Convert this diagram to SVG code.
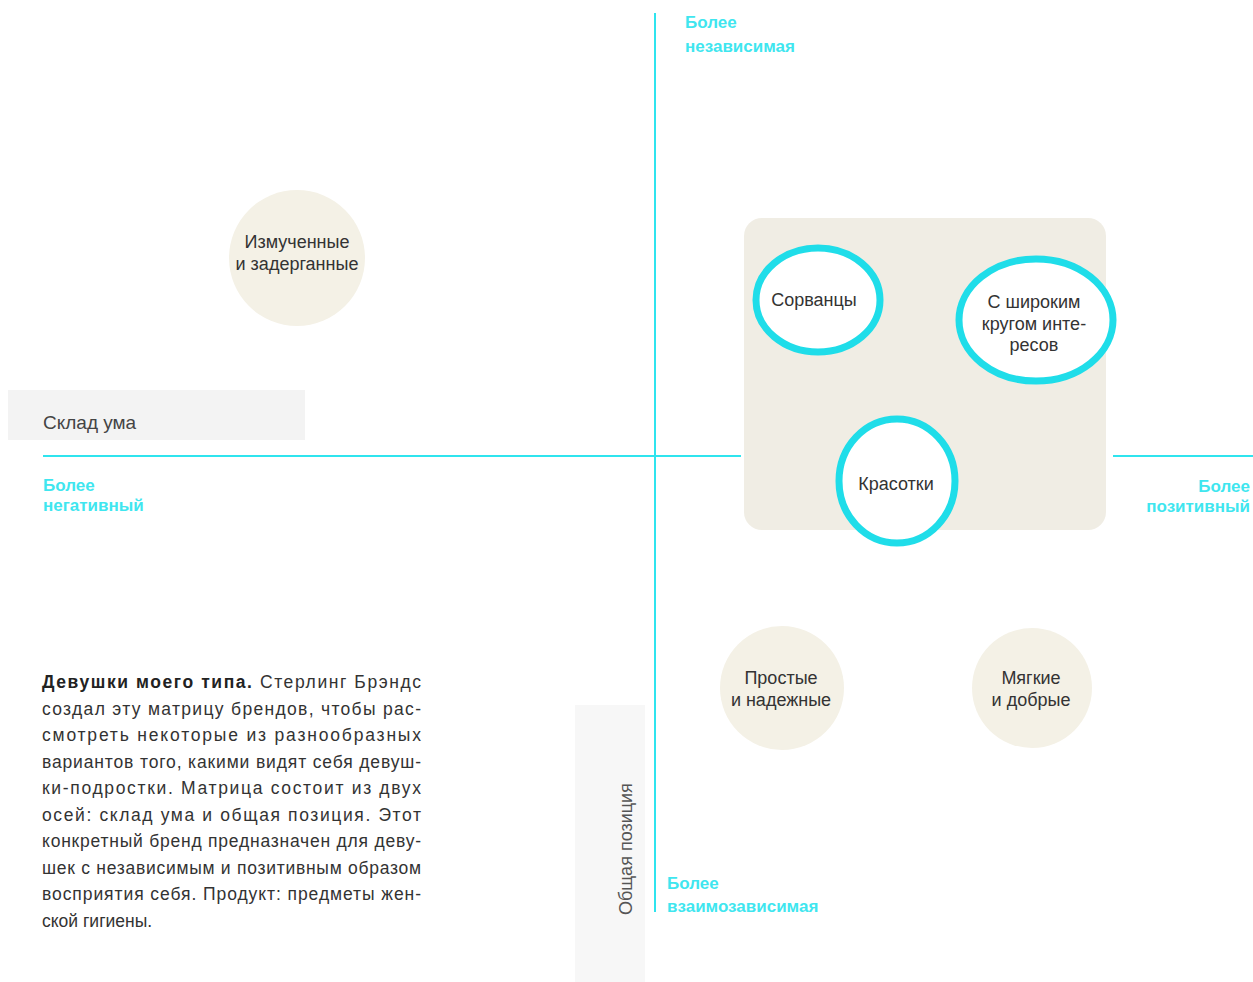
<svg xmlns="http://www.w3.org/2000/svg" width="1253" height="982" viewBox="0 0 1253 982">
<style>
.axis{stroke:#2fe4ee;stroke-width:2;fill:none}
.pole{font-family:"Liberation Sans",Arial,sans-serif;font-size:17px;fill:#3fe6ef;font-weight:bold}
.lbl{font-family:"Liberation Sans",Arial,sans-serif;font-size:18px;fill:#333;text-anchor:middle}
.soft{fill:#f4f1e6}
.ring{fill:#ffffff;stroke:#1fdde9;stroke-width:7}
.body{font-family:"Liberation Sans",Arial,sans-serif;font-size:17.5px;fill:#333}
</style>
<rect width="1253" height="982" fill="#ffffff"/>
<rect x="8" y="390" width="297" height="50" fill="#f3f3f3"/>
<rect x="575" y="705" width="70" height="277" fill="#f7f7f7"/>
<rect x="744" y="218" width="362" height="312" rx="18" fill="#f0ede4"/>
<g id="connectors">
<line class="axis" x1="655" y1="13" x2="655" y2="912"/>
<line class="axis" x1="43" y1="456" x2="741" y2="456"/>
<line class="axis" x1="1113" y1="456" x2="1253" y2="456"/>
</g>
<text x="43" y="429" font-family="'Liberation Sans',Arial,sans-serif" font-size="19" fill="#444">Склад ума</text>
<text transform="translate(632,915) rotate(-90)" font-family="'Liberation Sans',Arial,sans-serif" font-size="18" fill="#555">Общая позиция</text>
<text class="pole" x="685" y="28">Более</text>
<text class="pole" x="685" y="52">независимая</text>
<text class="pole" x="43" y="491">Более</text>
<text class="pole" x="43" y="511">негативный</text>
<text class="pole" x="1250" y="492" text-anchor="end">Более</text>
<text class="pole" x="1250" y="512" text-anchor="end">позитивный</text>
<text class="pole" x="667" y="889">Более</text>
<text class="pole" x="667" y="912">взаимозависимая</text>
<g id="node-izmuchennye">
<circle class="soft" cx="297" cy="258" r="68"/>
<text class="lbl" x="297" y="248">Измученные</text>
<text class="lbl" x="297" y="270">и задерганные</text>
</g>
<g id="node-sorvantsy">
<ellipse class="ring" cx="818" cy="300" rx="62" ry="52"/>
<text class="lbl" x="814" y="306">Сорванцы</text>
</g>
<g id="node-shirokim">
<ellipse class="ring" cx="1036" cy="320" rx="77" ry="61"/>
<text class="lbl" x="1034" y="308">С широким</text>
<text class="lbl" x="1034" y="330">кругом инте-</text>
<text class="lbl" x="1034" y="351">ресов</text>
</g>
<g id="node-krasotki">
<ellipse class="ring" cx="897" cy="481" rx="58" ry="62"/>
<text class="lbl" x="896" y="490">Красотки</text>
</g>
<g id="node-prostye">
<circle class="soft" cx="782" cy="688" r="62"/>
<text class="lbl" x="781" y="684">Простые</text>
<text class="lbl" x="781" y="706">и надежные</text>
</g>
<g id="node-myagkie">
<circle class="soft" cx="1032" cy="688" r="60"/>
<text class="lbl" x="1031" y="684">Мягкие</text>
<text class="lbl" x="1031" y="706">и добрые</text>
</g>
<g id="caption" class="body">
<text x="42" y="688" textLength="379" lengthAdjust="spacing"><tspan font-weight="bold" fill="#222">Девушки моего типа.</tspan> Стерлинг Брэндс</text>
<text x="42" y="715" textLength="379" lengthAdjust="spacing">создал эту матрицу брендов, чтобы рас-</text>
<text x="42" y="741" textLength="379" lengthAdjust="spacing">смотреть некоторые из разнообразных</text>
<text x="42" y="768" textLength="379" lengthAdjust="spacing">вариантов того, какими видят себя девуш-</text>
<text x="42" y="794" textLength="379" lengthAdjust="spacing">ки-подростки. Матрица состоит из двух</text>
<text x="42" y="821" textLength="379" lengthAdjust="spacing">осей: склад ума и общая позиция. Этот</text>
<text x="42" y="847" textLength="379" lengthAdjust="spacing">конкретный бренд предназначен для деву-</text>
<text x="42" y="874" textLength="379" lengthAdjust="spacing">шек с независимым и позитивным образом</text>
<text x="42" y="900" textLength="379" lengthAdjust="spacing">восприятия себя. Продукт: предметы жен-</text>
<text x="42" y="927">ской гигиены.</text>
</g>
</svg>
